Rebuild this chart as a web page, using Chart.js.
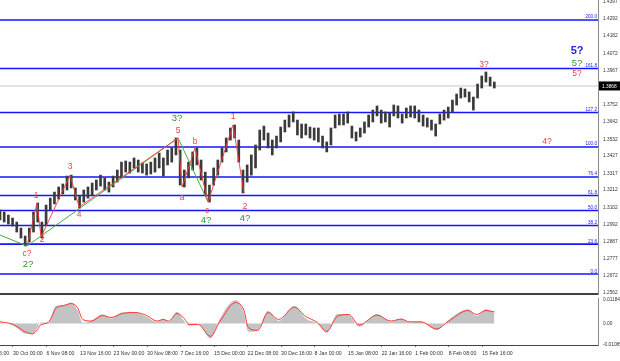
<!DOCTYPE html>
<html>
<head>
<meta charset="utf-8">
<script src="https://cdn.jsdelivr.net/npm/chart.js@4.4.1/dist/chart.umd.min.js"></script>
<style>
html, body { margin: 0; padding: 0; background: #fff; }
#wrap { width: 620px; height: 361px; }
canvas { display: block; }
</style>
</head>
<body>
<div id="wrap">
  <canvas id="priceChart" width="620" height="295"></canvas>
  <canvas id="macdChart" width="620" height="66"></canvas>
</div>
<script>
// H4 bars, one drawn bar per 4 source bars
const barStep = 4;
const barHigh = [1.3086, 1.3073, 1.3054, 1.3035, 1.3010, 1.2972, 1.2922, 1.2972, 1.3073, 1.3130,
  1.3010, 1.3117, 1.3161, 1.3199, 1.3231, 1.3250, 1.3300, 1.3306, 1.3225, 1.3174,
  1.3212, 1.3231, 1.3256, 1.3275, 1.3306, 1.3288, 1.3262, 1.3300, 1.3338, 1.3388,
  1.3395, 1.3388, 1.3414, 1.3401, 1.3382, 1.3376, 1.3388, 1.3414, 1.3445, 1.3414,
  1.3464, 1.3477, 1.3540, 1.3464, 1.3338, 1.3388, 1.3452, 1.3477, 1.3401, 1.3325,
  1.3243, 1.3351, 1.3401, 1.3477, 1.3540, 1.3603, 1.3622, 1.3527, 1.3338, 1.3370,
  1.3433, 1.3496, 1.3590, 1.3615, 1.3571, 1.3527, 1.3552, 1.3609, 1.3653, 1.3685,
  1.3704, 1.3653, 1.3628, 1.3628, 1.3609, 1.3603, 1.3603, 1.3552, 1.3515, 1.3603,
  1.3685, 1.3691, 1.3691, 1.3704, 1.3615, 1.3578, 1.3603, 1.3641, 1.3685, 1.3716,
  1.3742, 1.3716, 1.3704, 1.3697, 1.3748, 1.3742, 1.3691, 1.3729, 1.3742, 1.3742,
  1.3716, 1.3685, 1.3666, 1.3653, 1.3628, 1.3691, 1.3716, 1.3735, 1.3779, 1.3817,
  1.3855, 1.3849, 1.3830, 1.3798, 1.3880, 1.3931, 1.3956, 1.3924, 1.3893];
const barLow = [1.3023, 1.3010, 1.2997, 1.2985, 1.2947, 1.2909, 1.2859, 1.2884, 1.2947, 1.3010,
  1.2909, 1.2991, 1.3086, 1.3124, 1.3155, 1.3187, 1.3212, 1.3225, 1.3149, 1.3098,
  1.3136, 1.3161, 1.3180, 1.3212, 1.3237, 1.3212, 1.3199, 1.3231, 1.3262, 1.3288,
  1.3325, 1.3319, 1.3351, 1.3325, 1.3319, 1.3306, 1.3313, 1.3325, 1.3351, 1.3300,
  1.3370, 1.3388, 1.3433, 1.3243, 1.3231, 1.3288, 1.3338, 1.3370, 1.3275, 1.3180,
  1.3136, 1.3243, 1.3306, 1.3388, 1.3452, 1.3527, 1.3540, 1.3388, 1.3193, 1.3262,
  1.3306, 1.3351, 1.3464, 1.3527, 1.3477, 1.3433, 1.3477, 1.3515, 1.3578, 1.3609,
  1.3641, 1.3559, 1.3540, 1.3559, 1.3540, 1.3527, 1.3515, 1.3477, 1.3452, 1.3496,
  1.3603, 1.3622, 1.3622, 1.3634, 1.3540, 1.3521, 1.3546, 1.3571, 1.3609, 1.3641,
  1.3679, 1.3634, 1.3641, 1.3609, 1.3679, 1.3666, 1.3634, 1.3666, 1.3672, 1.3666,
  1.3641, 1.3615, 1.3609, 1.3590, 1.3552, 1.3628, 1.3653, 1.3666, 1.3704, 1.3748,
  1.3792, 1.3798, 1.3767, 1.3716, 1.3792, 1.3855, 1.3893, 1.3868, 1.3855];
const lastPrice = 1.3868;

const priceTicks = [1.4397, 1.4292, 1.4182, 1.4072, 1.3967, 1.3857, 1.3752, 1.3642, 1.3532,
  1.3427, 1.3317, 1.3212, 1.3102, 1.2992, 1.2887, 1.2777, 1.2672, 1.2562];

// fibonacci grid
const fibLevels = [0, 23.6, 38.2, 50, 61.8, 76.4, 100, 127.2, 161.8, 200];
const fibBase = 1.2682;
const fibTop = 1.3483;

// wave lines (bar index, price)
const redWaveBar = [25.8, 35.3, 39.2, 66.9, 75.5, 170, 173.8, 186.2, 198.7, 222.5, 233];
const redWavePrice = [1.2859, 1.3130, 1.2916, 1.3306, 1.3105, 1.3540, 1.3231, 1.3477, 1.3136, 1.3622, 1.3193];
const greenWaveBar = [0, 25.8, 170, 198.7];
const greenWavePrice = [1.2928, 1.2859, 1.3540, 1.3136];

// wave labels
const waveText = ['c?', '2?', '1', '2', '3', '4', '5', '3?', 'a', 'b', 'c', '4?', '1', '2', '4?', '3?', '4?', '5?', '5?', '5?'];
const waveBar = [25.8, 26.7, 34.4, 40.1, 66.9, 75.5, 170, 169, 173.8, 186.2, 197.7, 196.8, 222.5, 234, 234, 462.2, 522.4, 551, 551, 551];
const wavePrice = [1.2808, 1.2745, 1.3174, 1.2897, 1.3357, 1.3054, 1.3584, 1.3666, 1.3161, 1.3515, 1.3079, 1.3023, 1.3672, 1.3105, 1.3035, 1.4000, 1.3515, 1.4088, 1.4013, 1.3943];
const waveKind = ['r', 'g', 'r', 'r', 'r', 'r', 'r', 'g', 'r', 'r', 'r', 'g', 'r', 'r', 'g', 'r', 'r', 'b', 'g', 'r'];

// time axis
const timeLabels = ['23 Oct 16:00', '30 Oct 00:00', '6 Nov 08:00', '13 Nov 16:00', '23 Nov 00:00', '30 Nov 08:00',
  '7 Dec 16:00', '15 Dec 00:00', '22 Dec 08:00', '30 Dec 16:00', '8 Jan 00:00', '15 Jan 08:00',
  '22 Jan 16:00', '1 Feb 00:00', '8 Feb 08:00', '15 Feb 16:00'];
const firstLabelBar = -19.6;
const labelStep = 32;
const barsShown = 571;

// MACD
const macdBars = [0, 11, 19, 23, 31, 36, 38, 46, 50, 53, 61, 68, 74, 79, 87, 98, 106, 117, 129, 140,
  150, 156, 161, 169, 175, 181, 189, 201, 210, 225, 233, 237, 246, 256, 266, 281, 292, 303, 312, 322,
  333, 343, 360, 373, 383, 391, 402, 417, 428, 447, 455, 464, 472];
const macdMain = [0.0005, -0.0008, -0.0034, -0.0050, -0.0054, -0.0017, 0.0005, 0.0005, 0.0050, 0.0088,
  0.0093, 0.0105, 0.0067, 0.0003, 0.0013, 0.0046, 0.0025, 0.0056, 0.0054, 0.0034,
  0.0008, 0.0025, 0.0008, 0.0059, 0.0017, -0.0013, 0.0000, -0.0076, 0.0025, 0.0118,
  0.0050, -0.0042, -0.0034, 0.0064, 0.0013, 0.0089, 0.0025, 0.0000, -0.0047, 0.0047,
  0.0042, -0.0017, 0.0047, 0.0008, 0.0025, 0.0005, 0.0008, -0.0034, 0.0017, 0.0071,
  0.0037, 0.0071, 0.0054];
const macdSignal = [0.0008, -0.0002, -0.0025, -0.0040, -0.0052, -0.0030, -0.0010, 0.0005, 0.0040, 0.0075,
  0.0090, 0.0100, 0.0080, 0.0020, 0.0012, 0.0040, 0.0030, 0.0050, 0.0055, 0.0040,
  0.0012, 0.0020, 0.0012, 0.0050, 0.0030, -0.0005, -0.0005, -0.0065, 0.0010, 0.0105,
  0.0065, -0.0020, -0.0035, 0.0055, 0.0020, 0.0082, 0.0035, 0.0005, -0.0040, 0.0035,
  0.0045, -0.0008, 0.0042, 0.0012, 0.0022, 0.0008, 0.0008, -0.0028, 0.0010, 0.0065,
  0.0045, 0.0065, 0.0058];
const macdTicks = [0.01184, 0, -0.01085];
const macdTickText = ['0.01184', '0.00', '-0.01085'];

const axisFontCss = '4.8px "Liberation Sans"';
const colors = { r: '#f24040', g: '#2f962f', b: '#2525e6' };
const labelSize = { r: 8.5, g: 9.5, b: 11 };

const fibDatasets = fibLevels.map(f => ({
    type: 'line',
    data: [{ x: 0, y: fibBase + f / 100 * (fibTop - fibBase) }, { x: barsShown, y: fibBase + f / 100 * (fibTop - fibBase) }],
    borderColor: '#1414ff',
    borderWidth: 1.6,
    pointRadius: 0,
    order: 5,
}));

// right-hand price labels, written from the axis values
function drawAxisText(chart, values, texts) {
    const { ctx, chartArea: a, scales: { y } } = chart;
    ctx.save();
    ctx.font = axisFontCss;
    ctx.fillStyle = '#333';
    ctx.textAlign = 'left';
    ctx.textBaseline = 'middle';
    values.forEach((v, i) => {
        ctx.fillText(texts[i], a.right + 5, y.getPixelForValue(v));
    });
    ctx.restore();
}

const overlay = {
    id: 'overlay',
    afterDraw(chart) {
        const { ctx, chartArea: a, scales: { x, y } } = chart;
        drawAxisText(chart, priceTicks, priceTicks.map(v => v.toFixed(4)));
        ctx.save();
        // fib captions
        ctx.font = '4.6px "Liberation Sans"';
        ctx.fillStyle = '#1414ff';
        ctx.textAlign = 'right';
        ctx.textBaseline = 'bottom';
        fibLevels.forEach(f => {
            const py = y.getPixelForValue(fibBase + f / 100 * (fibTop - fibBase));
            ctx.fillText(f.toFixed(1), a.right - 1, py - 0.5);
        });
        // wave labels
        ctx.textAlign = 'center';
        ctx.textBaseline = 'middle';
        waveText.forEach((t, i) => {
            const k = waveKind[i];
            ctx.font = (k === 'b' ? 'bold ' : '') + labelSize[k] + 'px "Liberation Sans"';
            ctx.fillStyle = colors[k];
            ctx.fillText(t, x.getPixelForValue(waveBar[i]), y.getPixelForValue(wavePrice[i]));
        });
        // current price box
        const py = y.getPixelForValue(lastPrice);
        ctx.fillStyle = '#000';
        ctx.fillRect(a.right + 1, py - 4.5, 21, 9);
        ctx.fillStyle = '#fff';
        ctx.font = axisFontCss;
        ctx.textAlign = 'left';
        ctx.fillText(lastPrice.toFixed(4), a.right + 4, py + 0.5);
        // panel separator
        ctx.strokeStyle = '#404040';
        ctx.lineWidth = 2;
        ctx.beginPath();
        ctx.moveTo(0, a.bottom - 1);
        ctx.lineTo(a.right, a.bottom - 1);
        ctx.stroke();
        ctx.restore();
    }
};

const macdText = {
    id: 'macdText',
    afterDraw(chart) { drawAxisText(chart, macdTicks, macdTickText); }
};

new Chart(document.getElementById('priceChart'), {
    type: 'bar',
    data: {
        datasets: [
            ...fibDatasets,
            {
                type: 'line',
                data: [{ x: 0, y: lastPrice }, { x: barsShown, y: lastPrice }],
                borderColor: '#c8c8c8',
                borderWidth: 1,
                pointRadius: 0,
                order: 6,
            },
            {
                type: 'bar',
                data: barHigh.map((h, i) => ({ x: i * barStep, y: [barLow[i], h] })),
                backgroundColor: '#3a3a3a',
                barThickness: 2,
                order: 3,
            },
            {
                type: 'line',
                data: greenWaveBar.map((b, i) => ({ x: b, y: greenWavePrice[i] })),
                borderColor: '#45ad45',
                borderWidth: 1,
                pointRadius: 0,
                order: 2,
            },
            {
                type: 'line',
                data: redWaveBar.map((b, i) => ({ x: b, y: redWavePrice[i] })),
                borderColor: 'rgba(245,60,60,0.9)',
                borderWidth: 1,
                pointRadius: 0,
                order: 1,
            },
        ],
    },
    options: {
        animation: false,
        responsive: false,
        devicePixelRatio: 1,
        layout: { padding: 0 },
        plugins: { legend: { display: false }, tooltip: { enabled: false } },
        scales: {
            x: { type: 'linear', min: 0, max: barsShown, offset: false, display: false },
            y: {
                position: 'right',
                min: 1.2550,
                max: 1.4410,
                afterFit(s) { s.width = 22; s.paddingTop = 0; s.paddingBottom = 0; },
                ticks: { display: false },
                grid: { display: false },
                border: { display: true, color: '#8a8a8a' },
            },
        },
    },
    plugins: [overlay],
});

new Chart(document.getElementById('macdChart'), {
    type: 'line',
    data: {
        datasets: [
            {
                data: macdBars.map((b, i) => ({ x: b, y: macdMain[i] })),
                fill: 'origin',
                backgroundColor: '#c3c3c3',
                borderWidth: 0,
                pointRadius: 0,
                cubicInterpolationMode: 'monotone',
                order: 2,
            },
            {
                data: macdBars.map((b, i) => ({ x: b, y: macdSignal[i] })),
                borderColor: '#ff3535',
                borderWidth: 1,
                pointRadius: 0,
                cubicInterpolationMode: 'monotone',
                fill: false,
                order: 1,
            },
        ],
    },
    options: {
        animation: false,
        responsive: false,
        devicePixelRatio: 1,
        layout: { padding: { top: 3, left: 0, right: 0, bottom: 0 } },
        plugins: { legend: { display: false }, tooltip: { enabled: false } },
        scales: {
            x: {
                type: 'linear',
                min: 0,
                max: barsShown,
                offset: false,
                afterBuildTicks(s) { s.ticks = timeLabels.map((t, i) => ({ value: firstLabelBar + i * labelStep })); },
                afterFit(s) { s.height = 16; s.paddingLeft = 0; s.paddingRight = 0; },
                ticks: {
                    autoSkip: false, maxRotation: 0, align: 'start', padding: 3,
                    font: { family: 'Liberation Sans', size: 5.2 }, color: '#333',
                    callback: (v, i) => timeLabels[i],
                },
                grid: { display: true, drawOnChartArea: false, tickLength: 2, color: '#777' },
                border: { display: true, color: '#444' },
            },
            y: {
                position: 'right',
                min: -0.01085,
                max: 0.0128,
                afterFit(s) { s.width = 22; s.paddingTop = 0; s.paddingBottom = 0; },
                ticks: { display: false },
                grid: { display: false },
                border: { display: true, color: '#8a8a8a' },
            },
        },
    },
    plugins: [macdText],
});
</script>
</body>
</html>
